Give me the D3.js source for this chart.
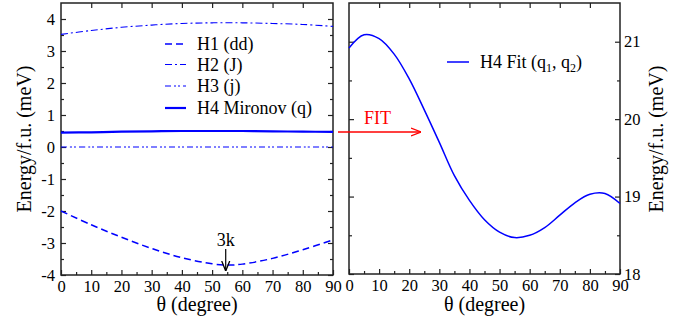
<!DOCTYPE html>
<html>
<head>
<meta charset="utf-8">
<script src="https://cdn.jsdelivr.net/npm/d3@7"></script>
<style>
  body { margin: 0; background: #fff; }
</style>
</head>
<body>
<svg id="chart" width="689" height="320"></svg>
<script>
// ---- data ----
var thetaTicks = [0, 10, 20, 30, 40, 50, 60, 70, 80, 90];
var leftYTicks = [-4, -3, -2, -1, 0, 1, 2, 3, 4];
var rightYTicks = [18, 19, 20, 21];

var h1Theta = [0, 10, 20, 30, 40, 50, 55, 60, 70, 80, 90];
var h1 = [-2.0, -2.43, -2.82, -3.17, -3.46, -3.65, -3.69, -3.66, -3.48, -3.21, -2.90];

var gridTheta = [0, 10, 20, 30, 40, 50, 60, 70, 80, 90];
var h2 = [3.52, 3.64, 3.74, 3.81, 3.86, 3.88, 3.88, 3.86, 3.83, 3.77];
var h3 = [0, 0, 0, 0, 0, 0, 0, 0, 0, 0];
var h4 = [0.45, 0.46, 0.48, 0.49, 0.50, 0.50, 0.50, 0.49, 0.48, 0.47];

var fitTheta = [0, 5, 10, 15, 20, 25, 30, 35, 40, 45, 50, 55, 60, 65, 70, 75, 80, 85, 90];
var fit = [20.92, 21.09, 21.04, 20.84, 20.52, 20.12, 19.70, 19.27, 18.95, 18.70, 18.54, 18.47, 18.50, 18.60, 18.76, 18.92, 19.03, 19.04, 18.91];

var legendLeft = ["H1 (dd)", "H2 (J)", "H3 (j)", "H4 Mironov (q)"];

var serif = "Liberation Serif";
var svg = d3.select("#chart");
var blue = "#0000ff";

var defs = svg.append("defs");
function addArrow(id, color) {
  defs.append("marker")
    .attr("id", id)
    .attr("markerUnits", "userSpaceOnUse")
    .attr("viewBox", "0 0 10 10")
    .attr("refX", 10).attr("refY", 5)
    .attr("markerWidth", 10).attr("markerHeight", 10)
    .attr("orient", "auto")
    .append("path")
    .attr("d", "M0,1 L10,5 L0,9")
    .attr("fill", "none")
    .attr("stroke", color)
    .attr("stroke-width", 1.3);
}
addArrow("arrRed", "#ff0000");
addArrow("arrBlack", "#000");

// draws frame + inward ticks for one panel
function panel(o) {
  var x = d3.scaleLinear().domain([0, 90]).range([o.x0, o.x1]);
  var y = d3.scaleLinear().domain(o.yDomain).range([o.y1, o.y0]);
  var g = svg.append("g");

  var minorX = d3.range(5, 90, 10);
  var minorY = o.minorY;

  function styleAxis(sel) {
    sel.attr("font-family", serif).attr("font-size", 16.5);
    sel.select(".domain").remove();
    sel.selectAll("line").attr("stroke", "#222").attr("stroke-width", 1.2);
  }

  // bottom
  g.append("g").attr("transform", "translate(0," + o.y1 + ")")
    .call(d3.axisBottom(x).tickValues(thetaTicks).tickSize(-5).tickPadding(5).tickFormat(d3.format("d")))
    .call(styleAxis);
  g.append("g").attr("transform", "translate(0," + o.y1 + ")")
    .call(d3.axisBottom(x).tickValues(minorX).tickSize(-3).tickFormat(""))
    .call(styleAxis);
  // top
  g.append("g").attr("transform", "translate(0," + o.y0 + ")")
    .call(d3.axisTop(x).tickValues(thetaTicks.slice(1, -1)).tickSize(-5).tickFormat(""))
    .call(styleAxis);
  // left
  g.append("g").attr("transform", "translate(" + o.x0 + ",0)")
    .call(d3.axisLeft(y).tickValues(o.yTicks).tickSize(-5).tickPadding(6)
      .tickFormat(o.labelLeft ? function(d) { return String(d); } : ""))
    .call(styleAxis);
  g.append("g").attr("transform", "translate(" + o.x0 + ",0)")
    .call(d3.axisLeft(y).tickValues(minorY).tickSize(-3).tickFormat(""))
    .call(styleAxis);
  // right
  g.append("g").attr("transform", "translate(" + o.x1 + ",0)")
    .call(d3.axisRight(y).tickValues(o.yTicks).tickSize(-5).tickPadding(4)
      .tickFormat(o.labelLeft ? "" : function(d) { return String(d); }))
    .call(styleAxis);
  g.append("g").attr("transform", "translate(" + o.x1 + ",0)")
    .call(d3.axisRight(y).tickValues(minorY).tickSize(-3).tickFormat(""))
    .call(styleAxis);

  // frame
  g.append("rect")
    .attr("x", o.x0).attr("y", o.y0)
    .attr("width", o.x1 - o.x0).attr("height", o.y1 - o.y0)
    .attr("fill", "none").attr("stroke", "#222").attr("stroke-width", 1.5);

  // x title
  g.append("text")
    .attr("x", (o.x0 + o.x1) / 2).attr("y", 311)
    .attr("text-anchor", "middle").attr("font-size", 20)
    .attr("font-family", serif)
    .text("θ (degree)");

  return { x: x, y: y, g: g };
}

// ---- left panel ----
var L = panel({
  x0: 61, x1: 333, y0: 3, y1: 275,
  yDomain: [-4, 4.5],
  yTicks: leftYTicks,
  minorY: d3.range(-3.5, 4.5, 1),
  labelLeft: true
});

var lineL = d3.line().curve(d3.curveCatmullRom)
  .x(function(d) { return L.x(d[0]); })
  .y(function(d) { return L.y(d[1]); });

var leftSeries = [
  { th: h1Theta, v: h1, dash: "7,4", w: 1.5 },
  { th: gridTheta, v: h2, dash: "7,3,2,3", w: 1.1 },
  { th: gridTheta, v: h3, dash: "6,3,2,2,2,3", w: 1.1 },
  { th: gridTheta, v: h4, dash: null, w: 2.2 }
];

leftSeries.forEach(function(s, i) {
  L.g.append("path")
    .datum(d3.zip(s.th, s.v))
    .attr("d", lineL)
    .attr("fill", "none")
    .attr("stroke", blue)
    .attr("stroke-width", s.w)
    .attr("stroke-dasharray", s.dash);

  var ly = [44, 64.5, 86, 108][i];
  L.g.append("line")
    .attr("x1", 165).attr("x2", 186).attr("y1", ly).attr("y2", ly)
    .attr("stroke", blue).attr("stroke-width", s.w)
    .attr("stroke-dasharray", s.dash);
  L.g.append("text")
    .attr("x", 197).attr("y", ly + 6)
    .attr("font-size", 18).attr("font-family", serif)
    .text(legendLeft[i]);
});

// 3k annotation
L.g.append("text")
  .attr("x", L.x(54.5)).attr("y", 246)
  .attr("text-anchor", "middle").attr("font-size", 18).attr("font-family", serif)
  .text("3k");
L.g.append("line")
  .attr("x1", L.x(54.5)).attr("x2", L.x(54.5))
  .attr("y1", 249).attr("y2", 271)
  .attr("stroke", "#000").attr("stroke-width", 1.2)
  .attr("marker-end", "url(#arrBlack)");

// left y title
svg.append("text")
  .attr("transform", "translate(31,139) rotate(-90)")
  .attr("text-anchor", "middle").attr("font-size", 20).attr("font-family", serif)
  .text("Energy/f.u. (meV)");

// ---- right panel ----
var R = panel({
  x0: 349, x1: 620, y0: 3, y1: 274,
  yDomain: [18, 21.5],
  yTicks: rightYTicks,
  minorY: [18.5, 19.5, 20.5],
  labelLeft: false
});

var lineR = d3.line().curve(d3.curveCatmullRom)
  .x(function(d) { return R.x(d[0]); })
  .y(function(d) { return R.y(d[1]); });

R.g.append("path")
  .datum(d3.zip(fitTheta, fit))
  .attr("d", lineR)
  .attr("fill", "none")
  .attr("stroke", blue)
  .attr("stroke-width", 1.5);

R.g.append("line")
  .attr("x1", 447).attr("x2", 469).attr("y1", 62).attr("y2", 62)
  .attr("stroke", blue).attr("stroke-width", 1.5);
var fitLabel = R.g.append("text").attr("x", 480).attr("y", 68)
  .attr("font-size", 18).attr("font-family", serif);
fitLabel.append("tspan").text("H4 Fit (q");
fitLabel.append("tspan").attr("font-size", 12).attr("dy", 4).text("1");
fitLabel.append("tspan").attr("dy", -4).text(", q");
fitLabel.append("tspan").attr("font-size", 12).attr("dy", 4).text("2");
fitLabel.append("tspan").attr("dy", -4).text(")");

// right y title
svg.append("text")
  .attr("transform", "translate(663,139) rotate(-90)")
  .attr("text-anchor", "middle").attr("font-size", 20).attr("font-family", serif)
  .text("Energy/f.u. (meV)");

// FIT arrow between panels
svg.append("text")
  .attr("x", 364).attr("y", 124)
  .attr("font-size", 18).attr("font-family", serif).attr("fill", "#ff0000")
  .text("FIT");
svg.append("line")
  .attr("x1", 338).attr("x2", 421).attr("y1", 132).attr("y2", 132)
  .attr("stroke", "#ff0000").attr("stroke-width", 1.3)
  .attr("marker-end", "url(#arrRed)");
</script>
</body>
</html>
